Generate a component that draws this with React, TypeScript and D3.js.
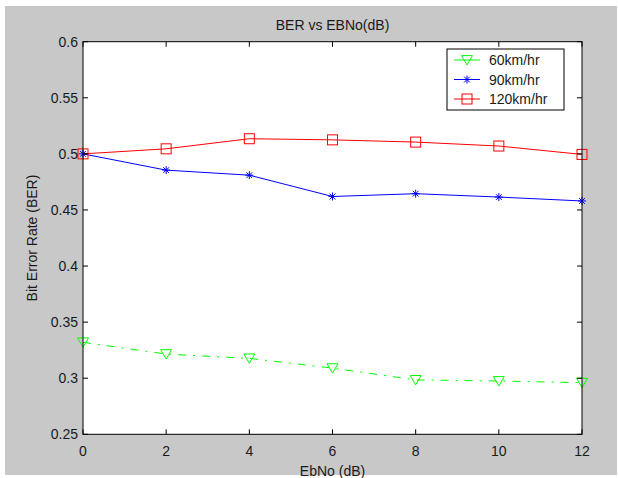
import React from 'react';
import * as d3 from 'd3';

const ebno = [0, 2, 4, 6, 8, 10, 12];
const ber60 = [0.332, 0.3215, 0.3177, 0.309, 0.2985, 0.2975, 0.296];
const ber90 = [0.5, 0.4855, 0.481, 0.462, 0.4645, 0.4615, 0.458];
const ber120 = [0.5, 0.5045, 0.5135, 0.5125, 0.5105, 0.507, 0.4995];
const xTicks = [0, 2, 4, 6, 8, 10, 12];
const yTicks = [0.25, 0.3, 0.35, 0.4, 0.45, 0.5, 0.55, 0.6];
const yTickLabels = ['0.25', '0.3', '0.35', '0.4', '0.45', '0.5', '0.55', '0.6'];
const seriesNames = ['60km/hr', '90km/hr', '120km/hr'];

const W = 619;
const H = 478;
const FONT = '"Liberation Sans", Arial, sans-serif';
const TXT = '#1a1a1a';

type Marker = 'tri' | 'star' | 'square';

function drawMarker(kind: Marker, cx: number, cy: number, color: string, key: string) {
  if (kind === 'tri') {
    const s = 5.5;
    const d = `M${cx - s},${cy - s * 0.8}L${cx + s},${cy - s * 0.8}L${cx},${cy + s * 0.9}Z`;
    return <path key={key} d={d} fill="none" stroke={color} strokeWidth={1} />;
  }
  if (kind === 'square') {
    const s = 5;
    return <rect key={key} x={cx - s} y={cy - s} width={2 * s} height={2 * s} fill="none" stroke={color} strokeWidth={1} />;
  }
  const s = 4;
  const d2 = s * 0.72;
  return (
    <g key={key} stroke={color} strokeWidth={1}>
      <line x1={cx - s} y1={cy} x2={cx + s} y2={cy} />
      <line x1={cx} y1={cy - s} x2={cx} y2={cy + s} />
      <line x1={cx - d2} y1={cy - d2} x2={cx + d2} y2={cy + d2} />
      <line x1={cx - d2} y1={cy + d2} x2={cx + d2} y2={cy - d2} />
    </g>
  );
}

export default function App() {
  const left = 83;
  const right = 582;
  const top = 41.7;
  const bottom = 434.3;

  const x = d3.scaleLinear().domain([0, 12]).range([left, right]);
  const y = d3.scaleLinear().domain([0.25, 0.6]).range([bottom, top]);

  const series = [
    { name: seriesNames[0], values: ber60, color: '#00ff00', marker: 'tri' as Marker, dash: '8,7,2,7' },
    { name: seriesNames[1], values: ber90, color: '#0000ff', marker: 'star' as Marker, dash: undefined },
    { name: seriesNames[2], values: ber120, color: '#ff0000', marker: 'square' as Marker, dash: undefined },
  ];

  const line = d3
    .line<number>()
    .x((_, i) => x(ebno[i]))
    .y((v) => y(v));

  const tickLen = 5;

  return (
    <svg width={W} height={H} style={{ position: 'absolute', left: 0, top: 0 }} fontFamily={FONT}>
      <rect x={0} y={0} width={W} height={H} fill="#ffffff" />
      <rect x={5} y={6} width={612} height={469} fill="#c8c8c8" />
      <rect x={left} y={top} width={right - left} height={bottom - top} fill="#ffffff" />

      <text x={(left + right) / 2} y={30} textAnchor="middle" fontSize={14} fill={TXT}>
        BER vs EBNo(dB)
      </text>

      {series.map((s) => (
        <g key={s.name}>
          <path d={line(s.values) || ''} fill="none" stroke={s.color} strokeWidth={1} strokeDasharray={s.dash} />
          {s.values.map((v, i) => drawMarker(s.marker, x(ebno[i]), y(v), s.color, `${s.name}-${i}`))}
        </g>
      ))}

      <rect x={left} y={top} width={right - left} height={bottom - top} fill="none" stroke="#000" strokeWidth={1} />

      {xTicks.map((t) => (
        <g key={`xt${t}`} stroke="#000" strokeWidth={1}>
          <line x1={x(t)} y1={bottom} x2={x(t)} y2={bottom - tickLen} />
          <line x1={x(t)} y1={top} x2={x(t)} y2={top + tickLen} />
        </g>
      ))}
      {xTicks.map((t) => (
        <text key={`xl${t}`} x={x(t)} y={456} textAnchor="middle" fontSize={14} fill={TXT}>
          {t}
        </text>
      ))}

      {yTicks.map((t) => (
        <g key={`yt${t}`} stroke="#000" strokeWidth={1}>
          <line x1={left} y1={y(t)} x2={left + tickLen} y2={y(t)} />
          <line x1={right} y1={y(t)} x2={right - tickLen} y2={y(t)} />
        </g>
      ))}
      {yTicks.map((t, i) => (
        <text key={`yl${t}`} x={78} y={y(t)} dy="0.36em" textAnchor="end" fontSize={14} fill={TXT}>
          {yTickLabels[i]}
        </text>
      ))}

      <text x={(left + right) / 2} y={476} textAnchor="middle" fontSize={14} fill={TXT}>
        EbNo (dB)
      </text>
      <text
        transform={`translate(37,${(top + bottom) / 2}) rotate(-90)`}
        textAnchor="middle"
        fontSize={14}
        fill={TXT}
      >
        Bit Error Rate (BER)
      </text>

      <g>
        <rect x={447} y={49} width={117} height={61} fill="#ffffff" stroke="#000" strokeWidth={1} />
        {series.map((s, i) => {
          const ly = 60 + i * 19.5;
          return (
            <g key={`lg${s.name}`}>
              <line x1={454} y1={ly} x2={480} y2={ly} stroke={s.color} strokeWidth={1} />
              {drawMarker(s.marker, 467, ly, s.color, `lgm${i}`)}
              <text x={489} y={ly} dy="0.36em" fontSize={14} fill={TXT}>
                {s.name}
              </text>
            </g>
          );
        })}
      </g>
    </svg>
  );
}
